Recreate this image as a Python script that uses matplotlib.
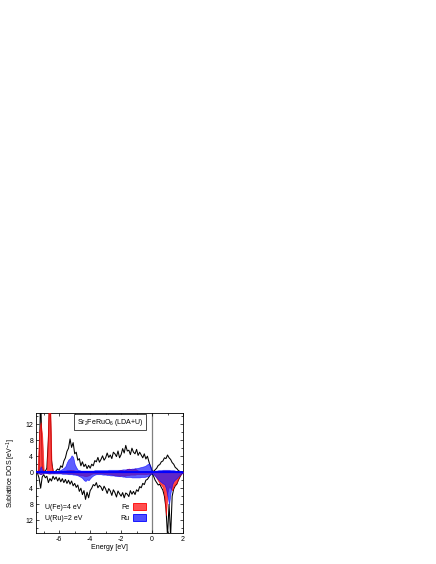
import numpy as np
import matplotlib
matplotlib.use('Agg')
import matplotlib.pyplot as plt
from matplotlib.patches import Patch
from matplotlib.ticker import MultipleLocator, FuncFormatter

plt.rcParams['font.family'] = ['Liberation Sans', 'DejaVu Sans']
plt.rcParams['mathtext.fontset'] = 'custom'
plt.rcParams['mathtext.rm'] = 'Liberation Sans'
plt.rcParams['mathtext.it'] = 'Liberation Sans:italic'
plt.rcParams['axes.unicode_minus'] = False

# energy grid [eV]
energy = [-7.5, -7.4, -7.3, -7.2, -7.1, -7.0, -6.9, -6.8, -6.7, -6.6,
          -6.5, -6.4, -6.3, -6.2, -6.1, -6.0, -5.9, -5.8, -5.7, -5.6,
          -5.5, -5.4, -5.3, -5.2, -5.1, -5.0, -4.9, -4.8, -4.7, -4.6,
          -4.5, -4.4, -4.3, -4.2, -4.1, -4.0, -3.9, -3.8, -3.7, -3.6,
          -3.5, -3.4, -3.3, -3.2, -3.1, -3.0, -2.9, -2.8, -2.7, -2.6,
          -2.5, -2.4, -2.3, -2.2, -2.1, -2.0, -1.9, -1.8, -1.7, -1.6,
          -1.5, -1.4, -1.3, -1.2, -1.1, -1.0, -0.9, -0.8, -0.7, -0.6,
          -0.5, -0.4, -0.3, -0.2, -0.1, 0.0, 0.1, 0.2, 0.3, 0.4,
          0.5, 0.6, 0.7, 0.8, 0.9, 1.0, 1.1, 1.2, 1.3, 1.4,
          1.5, 1.6, 1.7, 1.8, 1.9, 2.0]

# total DOS, spin up / spin down (magnitudes)
total_up = [0.0, 0.0, 0.5, 20.0, 1.5, 0.3, 0.2, 1.0, 8.0, 20.0,
            3.0, 0.2, -0.3, 0.4, 0.8, 0.5, 1.6, 1.2, 2.8, 3.6,
            5.2, 6.0, 8.3, 6.2, 7.4, 4.6, 5.0, 3.0, 3.4, 1.6,
            2.6, 1.4, 2.0, 0.9, 1.7, 1.0, 2.0, 1.6, 2.9, 2.6,
            3.7, 2.5, 3.2, 4.1, 3.0, 3.6, 4.8, 3.7, 4.3, 3.4,
            5.0, 4.6, 3.9, 5.3, 3.6, 4.4, 5.9, 4.8, 6.7, 5.3,
            5.5, 4.4, 6.0, 5.0, 4.6, 5.7, 4.2, 5.0, 4.3, 3.6,
            4.6, 3.3, 4.0, 2.6, 1.4, 0.3, 0.2, 0.6, 1.0, 1.7,
            1.9, 2.6, 2.8, 3.6, 3.4, 4.3, 3.6, 3.2, 2.4, 2.0,
            1.2, 0.9, 0.4, 0.2, 0.1, 0.0]
total_dn = [0.0, 0.3, 1.5, 4.0, 1.2, 0.6, 1.4, 1.0, 2.6, 1.6,
            2.2, 1.0, 1.8, 1.2, 2.2, 1.4, 2.4, 1.6, 2.6, 1.8,
            2.8, 2.0, 3.0, 2.2, 3.4, 2.8, 3.8, 3.2, 4.8, 4.0,
            5.6, 4.6, 6.8, 5.0, 6.4, 4.6, 4.0, 3.1, 3.4, 2.6,
            3.9, 3.3, 3.7, 4.6, 3.5, 4.2, 5.3, 4.1, 4.7, 5.8,
            4.4, 5.1, 6.2, 4.7, 5.4, 6.0, 5.1, 6.4, 5.2, 5.5,
            6.1, 4.6, 5.5, 4.8, 5.6, 4.4, 4.8, 3.6, 3.9, 2.8,
            3.1, 2.0, 1.8, 1.2, 0.6, 0.3, 1.0, 2.0, 2.6, 3.2,
            3.0, 3.8, 4.5, 6.0, 9.0, 16.0, 8.0, 16.0, 6.0, 4.2,
            3.4, 3.0, 2.0, 1.2, 0.5, 0.2]

# Fe sublattice DOS
fe_up = [0.0, 0.0, 10.0, 12.5, 9.0, 0.2, 0.1, 0.3, 15.0, 20.0,
         2.0, 0.2, 0.1, 0.1, 0.2, 0.2, 0.3, 0.3, 0.4, 0.4,
         0.5, 0.5, 0.6, 0.5, 0.5, 0.4, 0.3, 0.2, 0.2, 0.2,
         0.2, 0.2, 0.2, 0.2, 0.2, 0.2, 0.2, 0.2, 0.2, 0.2,
         0.2, 0.2, 0.2, 0.2, 0.2, 0.3, 0.3, 0.3, 0.3, 0.3,
         0.3, 0.3, 0.3, 0.4, 0.5, 0.6, 0.5, 0.4, 0.6, 0.8,
         0.9, 0.8, 0.7, 0.8, 0.9, 0.6, 0.4, 0.3, 0.3, 0.3,
         0.3, 0.3, 0.3, 0.2, 0.2, 0.1, 0.1, 0.2, 0.2, 0.3,
         0.3, 0.3, 0.4, 0.4, 0.4, 0.4, 0.4, 0.3, 0.3, 0.3,
         0.2, 0.2, 0.1, 0.1, 0.1, 0.0]
fe_dn = [0.0, 0.0, 0.3, 0.5, 0.3, 0.1, 0.1, 0.2, 0.3, 0.3,
         0.2, 0.2, 0.2, 0.2, 0.2, 0.2, 0.2, 0.2, 0.2, 0.2,
         0.3, 0.3, 0.3, 0.3, 0.4, 0.4, 0.5, 0.6, 0.7, 0.8,
         0.8, 0.9, 1.0, 0.9, 0.8, 0.6, 0.4, 0.3, 0.3, 0.3,
         0.3, 0.3, 0.3, 0.3, 0.4, 0.4, 0.4, 0.5, 0.5, 0.6,
         0.7, 0.7, 0.8, 0.8, 0.9, 0.8, 0.8, 0.9, 0.8, 0.7,
         0.7, 0.6, 0.6, 0.6, 0.6, 0.5, 0.5, 0.5, 0.5, 0.5,
         0.5, 0.5, 0.4, 0.4, 0.3, 0.1, 0.4, 0.8, 1.5, 2.2,
         2.8, 3.2, 3.8, 6.0, 10.7, 5.0, 3.5, 4.0, 4.5, 3.5,
         3.0, 2.5, 1.5, 0.8, 0.3, 0.1]

# Ru sublattice DOS
ru_up = [0.0, 0.1, 0.3, 1.5, 0.5, 0.2, 0.1, 0.1, 0.2, 0.3,
         0.2, 0.2, 0.2, 0.2, 0.3, 0.4, 0.6, 0.8, 1.1, 1.5,
         2.5, 3.2, 3.5, 4.2, 3.8, 2.0, 1.2, 0.6, 0.5, 0.4,
         0.4, 0.4, 0.4, 0.4, 0.4, 0.4, 0.4, 0.4, 0.5, 0.5,
         0.5, 0.5, 0.5, 0.5, 0.5, 0.5, 0.5, 0.6, 0.6, 0.6,
         0.6, 0.6, 0.6, 0.6, 0.6, 0.6, 0.7, 0.7, 0.7, 0.8,
         0.8, 0.8, 0.9, 0.9, 1.0, 1.0, 1.1, 1.2, 1.3, 1.4,
         1.5, 1.7, 2.0, 2.2, 1.5, 0.3, 0.3, 0.4, 0.4, 0.5,
         0.5, 0.5, 0.6, 0.6, 0.6, 0.6, 0.6, 0.5, 0.5, 0.5,
         0.4, 0.3, 0.3, 0.2, 0.1, 0.0]
ru_dn = [0.0, 0.1, 0.3, 0.5, 0.3, 0.2, 0.2, 0.2, 0.3, 0.3,
         0.3, 0.3, 0.3, 0.3, 0.3, 0.3, 0.3, 0.4, 0.4, 0.4,
         0.4, 0.5, 0.5, 0.5, 0.6, 0.6, 0.7, 0.8, 1.0, 1.2,
         1.5, 2.0, 2.2, 1.8, 2.0, 1.5, 1.1, 0.8, 0.6, 0.5,
         0.5, 0.5, 0.5, 0.6, 0.6, 0.6, 0.7, 0.7, 0.8, 0.8,
         0.8, 0.9, 0.9, 1.0, 1.0, 1.0, 1.1, 1.1, 1.2, 1.2,
         1.2, 1.2, 1.3, 1.3, 1.3, 1.3, 1.3, 1.3, 1.2, 1.2,
         1.2, 1.1, 1.0, 0.8, 0.5, 0.3, 0.6, 1.0, 1.4, 1.8,
         2.2, 2.5, 2.8, 3.0, 4.0, 6.0, 8.0, 5.0, 3.0, 2.2,
         1.8, 1.5, 1.0, 0.6, 0.3, 0.1]

E = np.array(energy)

fig = plt.figure(figsize=(4.36, 5.64), dpi=100)
ax = fig.add_axes([0.0826, 0.055, 0.3371, 0.2127])

ax.plot(E, np.array(total_up), color='black', lw=0.75, zorder=2)
ax.plot(E, -np.array(total_dn), color='black', lw=0.75, zorder=2)

ax.fill_between(E, 0, np.array(fe_up), facecolor='#ff1a1a', alpha=0.8,
                edgecolor='#ff0000', lw=0.5, zorder=3)
ax.fill_between(E, 0, -np.array(fe_dn), facecolor='#ff1a1a', alpha=0.8,
                edgecolor='#ff0000', lw=0.5, zorder=3)
ax.fill_between(E, 0, np.array(ru_up), facecolor='#1a1aff', alpha=0.7,
                edgecolor='#0000ff', lw=0.5, zorder=4)
ax.fill_between(E, 0, -np.array(ru_dn), facecolor='#1a1aff', alpha=0.7,
                edgecolor='#0000ff', lw=0.5, zorder=4)

ax.axhline(0, color='#0000ff', lw=1.4, zorder=5)
ax.axvline(0, color='#808080', lw=0.9, zorder=1)

ax.set_xlim(-7.5, 2)
ax.set_ylim(-15.2, 14.8)
ax.xaxis.set_major_locator(MultipleLocator(2))
ax.xaxis.set_minor_locator(MultipleLocator(1))
ax.yaxis.set_major_locator(MultipleLocator(4))
ax.yaxis.set_minor_locator(MultipleLocator(2))
ax.yaxis.set_major_formatter(FuncFormatter(lambda v, p: '%d' % abs(round(v))))
ax.tick_params(which='both', direction='in', top=True, right=True,
               labelsize=5, width=0.5, pad=2)
ax.tick_params(which='major', length=2.5)
ax.tick_params(which='minor', length=1.5)
for s in ax.spines.values():
    s.set_linewidth(0.6)

ax.set_xlabel('Energy [eV]', fontsize=5, labelpad=1)
ax.set_ylabel('Sublattice DOS [eV$^{-1}$]', fontsize=5)
ax.yaxis.set_label_coords(-0.125, 0.5)

ax.text(0.503, 0.925, 'Sr$_2$FeRuO$_6$ (LDA+U)', transform=ax.transAxes,
        ha='center', va='center', fontsize=5, zorder=6,
        bbox=dict(boxstyle='square,pad=0.4', fc='white', ec='black', lw=0.5))
ax.text(0.06, 0.21, 'U(Fe)=4 eV', transform=ax.transAxes, fontsize=5,
        ha='left', va='center')
ax.text(0.06, 0.12, 'U(Ru)=2 eV', transform=ax.transAxes, fontsize=5,
        ha='left', va='center')

handles = [Patch(facecolor='#ff5050', edgecolor='#ff0000', lw=0.6, label='Fe'),
           Patch(facecolor='#5050ff', edgecolor='#0000ff', lw=0.6, label='Ru')]
ax.legend(handles=handles, loc='lower right', bbox_to_anchor=(0.78, 0.05),
          frameon=False, fontsize=5, markerfirst=False, handlelength=1.8,
          handleheight=1.2, labelspacing=0.5, handletextpad=0.6, borderpad=0.2)

fig.savefig('out.png', dpi=100)
